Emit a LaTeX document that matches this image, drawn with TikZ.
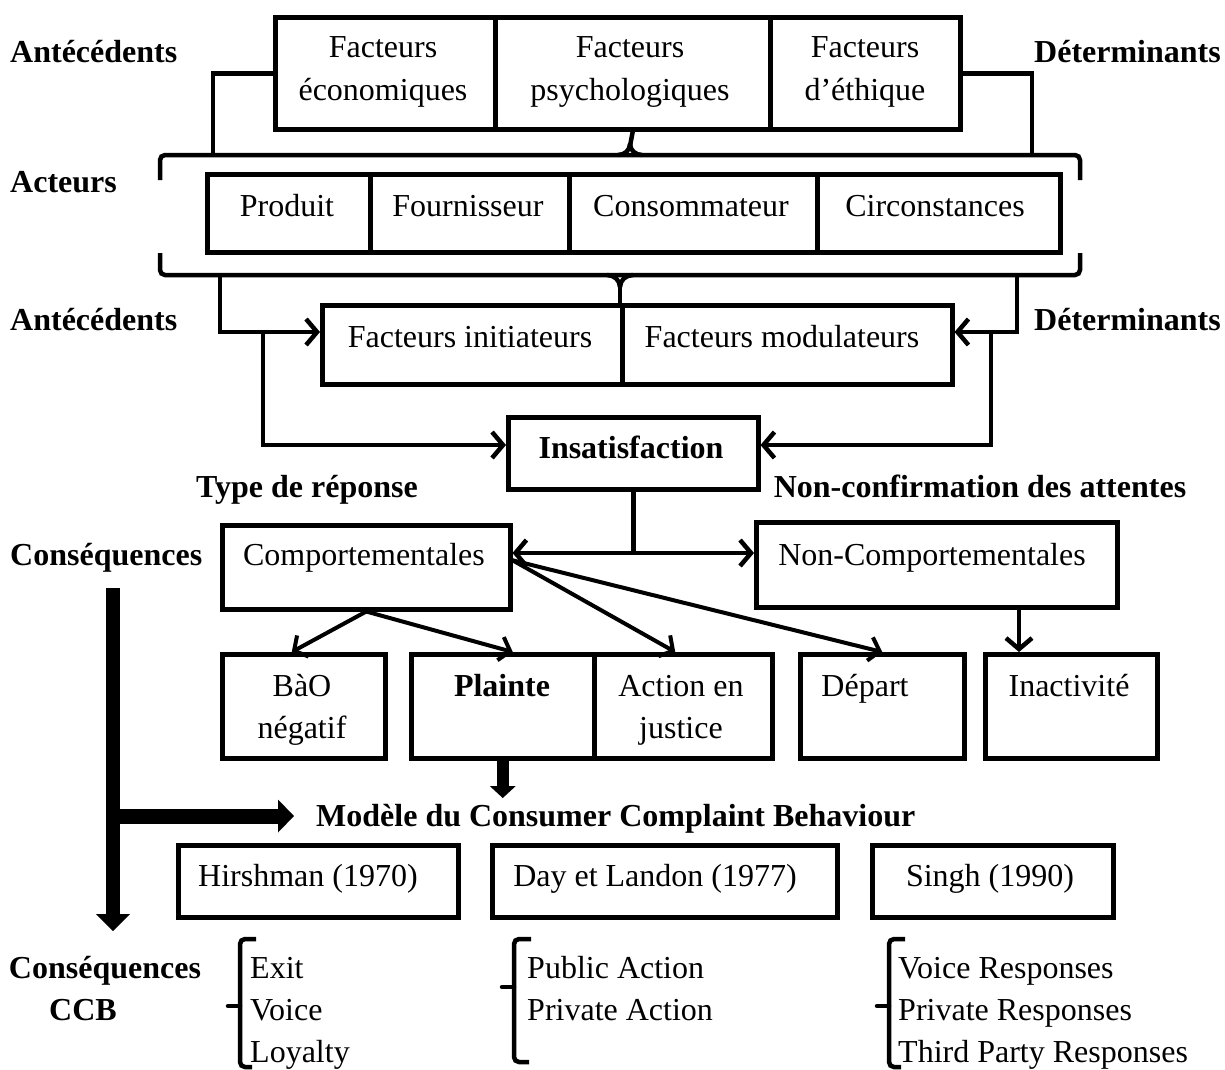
\documentclass[tikz,border=0pt]{standalone}
\usepackage{fontspec}
\setmainfont{Liberation Serif}
\usetikzlibrary{arrows.meta,calc}
\begin{document}
\begin{tikzpicture}[x=1pt,y=-1pt,
  box/.style={draw, line width=4.5pt, inner sep=0pt, anchor=north west},
  txt/.style={inner sep=0pt, font=\fontsize{32}{43}\selectfont, text height=22pt, text depth=1pt},
  btxt/.style={txt, font=\fontsize{32}{43}\selectfont\bfseries},
  conn/.style={line width=4.5pt},
  arr/.style={conn, -{Straight Barb[length=11pt,width=26pt]}},
  darr/.style={line width=4pt, -{Straight Barb[length=10pt,width=24pt]}},
  fatarrow/.style={line width=#1, -{Triangle[length=17pt,width=34pt,line width=0pt]}},
  smallfat/.style={line width=12pt, -{Triangle[length=12pt,width=26pt,line width=0pt]}},
  brk/.style={line width=4.5pt, rounded corners=5pt},
]
\useasboundingbox (0,0) rectangle (1225,1069);

% ---------- top row ----------
\node[box, minimum width=220pt, minimum height=112pt] (eco) at (273,15) {};
\node[box, minimum width=275pt, minimum height=112pt] (psy) at (493,15) {};
\node[box, minimum width=190pt, minimum height=112pt] (eth) at (768,15) {};
\node[txt] (ecot1) at (383,47) {Facteurs};
\node[txt] (ecot2) at (383,90) {économiques};
\node[txt] (psyt1) at (630,47) {Facteurs};
\node[txt] (psyt2) at (630,90) {psychologiques};
\node[txt] (etht1) at (865,47) {Facteurs};
\node[txt] (etht2) at (865,90) {d’éthique};

\node[btxt, anchor=west] (ant1) at (10,52) {Antécédents};
\node[btxt, anchor=east] (det1) at (1221,52) {Déterminants};
\node[btxt, anchor=west] (act) at (10,182) {Acteurs};

% brace 1
\coordinate (b1l) at (213,155);
\coordinate (b1r) at (1032,155);
\draw[brk] (160,180) -- (160,155) -- (1080,155) -- (1080,180);
\draw[conn] (psy.south) -- (630,146);
\draw[conn] (630,144) to[out=-90,in=0] (618,155);
\draw[conn] (630,144) to[out=-90,in=180] (642,155);
\draw[conn] (eco.west) -| (b1l);
\draw[conn] (eth.east) -| (b1r);

% ---------- actors row ----------
\node[box, minimum width=163pt, minimum height=78pt] (prod) at (205,172) {};
\node[box, minimum width=199pt, minimum height=78pt] (four) at (368,172) {};
\node[box, minimum width=248pt, minimum height=78pt] (cons) at (567,172) {};
\node[box, minimum width=243pt, minimum height=78pt] (circ) at (815,172) {};
\node[txt] (prodt) at (287,206) {Produit};
\node[txt] (fourt) at (468,206) {Fournisseur};
\node[txt] (const) at (691,206) {Consommateur};
\node[txt] (circt) at (935,206) {Circonstances};

% brace 2
\coordinate (b2l) at (220,275);
\coordinate (b2r) at (1017,275);
\draw[brk] (160,253) -- (160,275) -- (1080,275) -- (1080,253);
\draw[conn] (620,285) -- (620,303);
\draw[conn] (620,287) to[out=90,in=0] (607,275);
\draw[conn] (620,287) to[out=90,in=180] (633,275);

% ---------- factors row ----------
\node[box, minimum width=300pt, minimum height=79pt] (init) at (320,303) {};
\node[box, minimum width=330pt, minimum height=79pt] (modu) at (620,303) {};
\node[txt] (initt) at (470,337) {Facteurs initiateurs};
\node[txt] (modut) at (782,337) {Facteurs modulateurs};
\node[btxt, anchor=west] (ant2) at (10,320) {Antécédents};
\node[btxt, anchor=east] (det2) at (1221,320) {Déterminants};

\draw[arr] (b2l) |- (init.west |- 0,332);
\draw[arr] (b2r) |- (modu.east |- 0,332);

% ---------- insatisfaction ----------
\node[box, minimum width=250pt, minimum height=72pt] (insat) at (506,415) {};
\node[btxt] (insatt) at (631,448) {Insatisfaction};
\coordinate (jl) at (263,332);
\coordinate (jr) at (991,332);
\draw[arr] (jl) |- (insat.west |- 0,445);
\draw[arr] (jr) |- (insat.east |- 0,445);

\node[btxt] (type) at (307,487) {Type de réponse};
\node[btxt] (nonconf) at (980,487) {Non-confirmation des attentes};

% ---------- responses ----------
\node[box, minimum width=288pt, minimum height=84pt] (comp) at (220,523) {};
\node[txt] (compt) at (364,555) {Comportementales};
\node[box, minimum width=361pt, minimum height=85pt] (noncomp) at (754,520) {};
\node[txt] (noncompt) at (932,555) {Non-Comportementales};
\node[btxt, anchor=west] (cons1) at (10,555) {Conséquences};

\coordinate (js) at (insat.south |- 0,553);
\draw[conn] (insat.south) -- (js);
\draw[arr] (js) -- (comp.east |- 0,553);
\draw[arr] (js) -- (noncomp.west |- 0,553);

% ---------- behaviours ----------
\node[box, minimum width=163pt, minimum height=104pt] (bao) at (220,652) {};
\node[box, minimum width=183pt, minimum height=104pt] (plainte) at (409,652) {};
\node[box, minimum width=178pt, minimum height=104pt] (action) at (592,652) {};
\node[box, minimum width=164pt, minimum height=104pt] (depart) at (798,652) {};
\node[box, minimum width=172pt, minimum height=104pt] (inact) at (983,652) {};
\node[txt] (baot1) at (302,686) {BàO};
\node[txt] (baot2) at (302,728) {négatif};
\node[btxt] (plaintet) at (502,686) {Plainte};
\node[txt] (actiont1) at (681,686) {Action en};
\node[txt] (actiont2) at (681,728) {justice};
\node[txt] (departt) at (865,686) {Départ};
\node[txt] (inactt) at (1069,686) {Inactivité};

\coordinate (cr) at ([yshift=7pt]comp.east);
\draw[darr] (comp.south) -- ([xshift=-12pt]bao.north);
\draw[darr] (comp.south) -- ([xshift=10pt]plainte.north);
\draw[darr] (cr) -- ([xshift=-8pt]action.north);
\draw[darr] (cr) -- (depart.north);
\draw[arr] (noncomp.south -| 1019,0) -- (inact.north -| 1019,0);

% ---------- model ----------
\node[btxt, anchor=west] (model) at (316,816) {Modèle du Consumer Complaint Behaviour};
\coordinate (pt) at (500,798);
\draw[smallfat] (plainte.south) -- (plainte.south |- pt);

\coordinate (d1) at (113,588);
\coordinate (d2) at (113,931);
\coordinate (r1) at (113,816);
\draw[fatarrow=14pt] (d1) -- (d2);
\draw[line width=15pt, -{Triangle[length=16pt,width=33pt,line width=0pt]}] (r1) -- ([xshift=-22pt]model.west);

\node[box, minimum width=280pt, minimum height=72pt] (hirsh) at (176,843) {};
\node[box, minimum width=345pt, minimum height=72pt] (day) at (490,843) {};
\node[box, minimum width=241pt, minimum height=72pt] (singh) at (870,843) {};
\node[txt] (hirsht) at (308,876) {Hirshman (1970)};
\node[txt] (dayt) at (655,876) {Day et Landon (1977)};
\node[txt] (singht) at (990,876) {Singh (1990)};

% ---------- consequences ----------
\node[btxt] (cons2) at (105,968) {Conséquences};
\node[btxt] (ccb) at (83,1010) {CCB};

\draw[brk] (256,939) -- (240,939) -- (240,1067) -- (252,1067);
\draw[conn, line cap=round] (240,1006) -- (228,1006);
\node[txt, anchor=west] (exit) at (250,968) {Exit};
\node[txt, anchor=west] (voice) at (250,1010) {Voice};
\node[txt, anchor=west] (loyal) at (250,1052) {Loyalty};

\draw[brk] (531,939) -- (514,939) -- (514,1062) -- (529,1062);
\draw[conn, line cap=round] (514,987) -- (502,987);
\node[txt, anchor=west] (pub) at (527,968) {Public Action};
\node[txt, anchor=west] (priv) at (527,1010) {Private Action};

\draw[brk] (905,939) -- (889,939) -- (889,1067) -- (901,1067);
\draw[conn, line cap=round] (889,1006) -- (877,1006);
\node[txt, anchor=west] (vr) at (898,968) {Voice Responses};
\node[txt, anchor=west] (pr) at (898,1010) {Private Responses};
\node[txt, anchor=west] (tpr) at (898,1052) {Third Party Responses};
\end{tikzpicture}
\end{document}
